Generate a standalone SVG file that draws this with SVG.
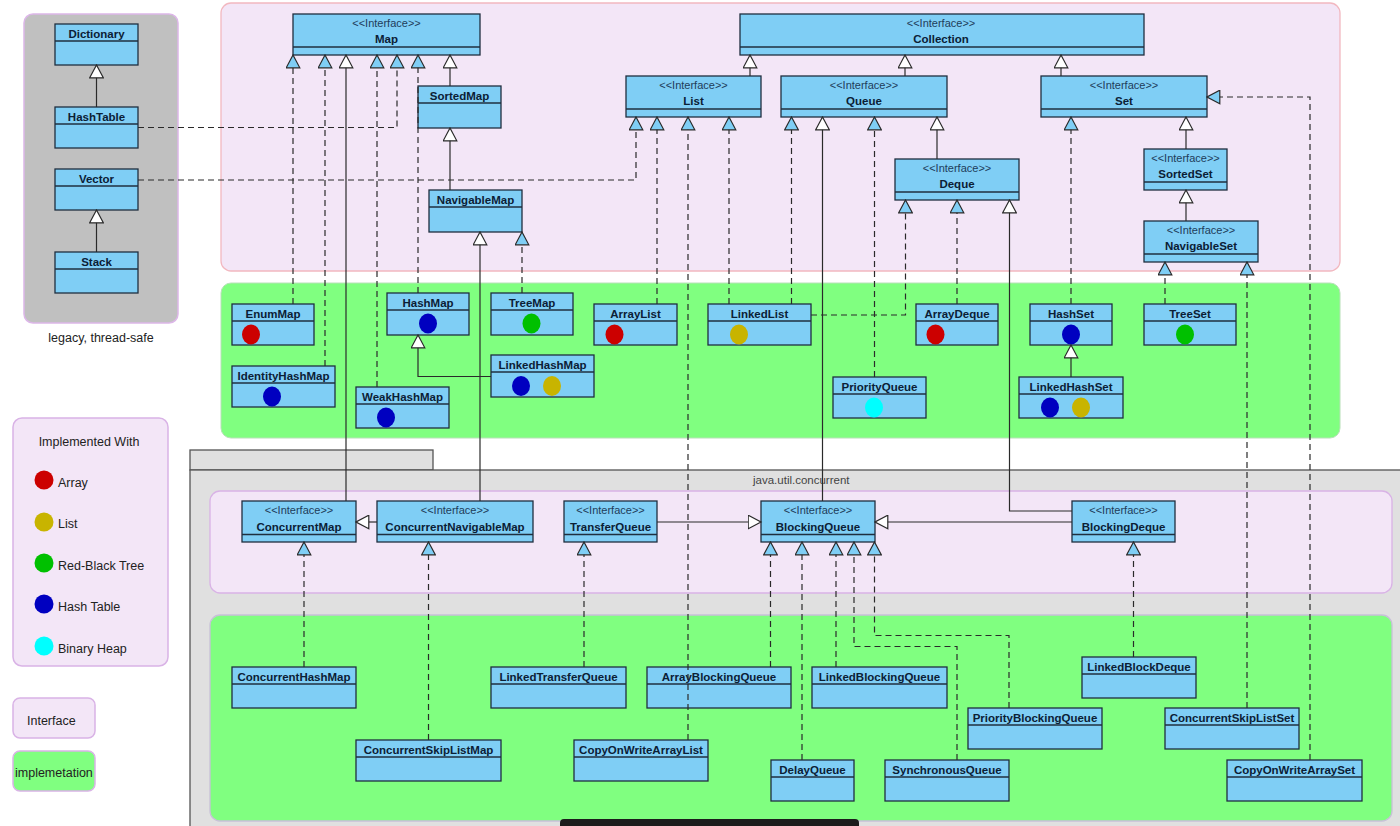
<svg xmlns="http://www.w3.org/2000/svg" width="1400" height="826" viewBox="0 0 1400 826">
<defs>
<style>
.box{fill:#7fcef5;stroke:#1f2f3f;stroke-width:1.3}
.dv{stroke:#1f2f3f;stroke-width:1.3}
.st{font-family:"Liberation Sans",Arial,sans-serif;font-size:11px;fill:#1e3c5a;text-anchor:middle}
.nm{font-family:"Liberation Sans",Arial,sans-serif;font-size:11.5px;font-weight:bold;fill:#0b2035;text-anchor:middle}
.lg{font-family:"Liberation Sans",Arial,sans-serif;font-size:12.5px;fill:#222}
.ln{fill:none;stroke:#2a2a2a;stroke-width:1.2}
.gen{marker-end:url(#gen)}
.real{marker-end:url(#real);stroke-dasharray:6 4}
.red{fill:#cc0000}.yel{fill:#c8b400}.grn{fill:#00c000}.blu{fill:#0000c0}.cyn{fill:#00ffff}
.lav{fill:#f3e6f7}
.green{fill:#80ff80}
</style>
<marker id="gen" viewBox="0 0 15 15" refX="13.5" refY="7.5" markerWidth="15" markerHeight="15" markerUnits="userSpaceOnUse" orient="auto">
<path d="M0.7,0.7 L13.5,7.5 L0.7,14.3 Z" fill="#ffffff" stroke="#2a2a2a" stroke-width="1.2"/>
</marker>
<marker id="real" viewBox="0 0 15 15" refX="13.5" refY="7.5" markerWidth="15" markerHeight="15" markerUnits="userSpaceOnUse" orient="auto">
<path d="M0.7,0.7 L13.5,7.5 L0.7,14.3 Z" fill="#7fcef5" stroke="#2a2a2a" stroke-width="1.2"/>
</marker>
</defs>
<rect x="0" y="0" width="1400" height="826" fill="#ffffff"/>

<!-- regions -->
<g id="regions">
<rect x="24" y="14" width="154" height="309" rx="9" fill="#c0c0c0" stroke="#dcb6e8" stroke-width="1.5"/>
<text class="lg" x="101" y="342" text-anchor="middle" font-size="12.5">legacy, thread-safe</text>
<rect x="221" y="3" width="1119" height="268" rx="10" class="lav" stroke="#f2b8c0" stroke-width="1.3"/>
<rect x="221" y="283" width="1119" height="155" rx="10" class="green" stroke="#b8e0b8" stroke-width="1"/>
<rect x="190" y="450" width="243" height="20" fill="#e0e0e0" stroke="#555" stroke-width="1.3"/>
<rect x="190" y="470" width="1230" height="370" fill="#e0e0e0" stroke="#555" stroke-width="1.3"/>
<text x="753" y="484" font-family="Liberation Sans, Arial, sans-serif" font-size="11.5" fill="#444">java.util.concurrent</text>
<rect x="210" y="491" width="1182" height="102" rx="10" class="lav" stroke="#d9b3e6" stroke-width="1.3"/>
<rect x="210" y="615" width="1182" height="206" rx="10" class="green" stroke="#c8c0d8" stroke-width="1.3"/>
</g>

<!-- legend -->
<g id="legend">
<rect x="13" y="418" width="155" height="248" rx="9" class="lav" stroke="#d9b3e6" stroke-width="1.5"/>
<text class="lg" x="89" y="446" text-anchor="middle">Implemented With</text>
<circle class="red" cx="44" cy="480" r="9.5"/><text class="lg" x="58" y="487">Array</text>
<circle class="yel" cx="44" cy="522" r="9.5"/><text class="lg" x="58" y="528">List</text>
<circle class="grn" cx="44" cy="563" r="9.5"/><text class="lg" x="58" y="570">Red-Black Tree</text>
<circle class="blu" cx="44" cy="604" r="9.5"/><text class="lg" x="58" y="611">Hash Table</text>
<circle class="cyn" cx="44" cy="646" r="9.5"/><text class="lg" x="58" y="653">Binary Heap</text>
<rect x="13" y="698" width="82" height="40" rx="7" class="lav" stroke="#d9b3e6" stroke-width="1.5"/>
<text class="lg" x="27" y="725">Interface</text>
<rect x="13" y="751" width="82" height="40" rx="7" class="green" stroke="#d9b3e6" stroke-width="1.5"/>
<text class="lg" x="15" y="777">implemetation</text>
</g>

<!-- legacy nodes -->
<g id="n-dictionary"><rect class="box" x="55" y="24" width="83" height="41"/><line class="dv" x1="55" y1="41" x2="138" y2="41"/><text class="nm" x="96.5" y="37.5">Dictionary</text></g>
<g id="n-hashtable"><rect class="box" x="55" y="107" width="83" height="41"/><line class="dv" x1="55" y1="124" x2="138" y2="124"/><text class="nm" x="96.5" y="120.5">HashTable</text></g>
<g id="n-vector"><rect class="box" x="55" y="169" width="83" height="41"/><line class="dv" x1="55" y1="186" x2="138" y2="186"/><text class="nm" x="96.5" y="182.5">Vector</text></g>
<g id="n-stack"><rect class="box" x="55" y="252" width="83" height="41"/><line class="dv" x1="55" y1="269" x2="138" y2="269"/><text class="nm" x="96.5" y="265.5">Stack</text></g>

<!-- top interfaces -->
<g id="n-map"><rect class="box" x="293" y="14" width="187" height="41"/><line class="dv" x1="293" y1="47" x2="480" y2="47"/><text class="st" x="386.5" y="26.5">&lt;&lt;Interface&gt;&gt;</text><text class="nm" x="386.5" y="43">Map</text></g>
<g id="n-collection"><rect class="box" x="740" y="14" width="404" height="41"/><line class="dv" x1="740" y1="47" x2="1144" y2="47"/><text class="st" x="941" y="26.5">&lt;&lt;Interface&gt;&gt;</text><text class="nm" x="941" y="43">Collection</text></g>
<g id="n-list"><rect class="box" x="626" y="76" width="135" height="41"/><line class="dv" x1="626" y1="109" x2="761" y2="109"/><text class="st" x="693.5" y="88.5">&lt;&lt;Interface&gt;&gt;</text><text class="nm" x="693.5" y="105">List</text></g>
<g id="n-queue"><rect class="box" x="781" y="76" width="166" height="41"/><line class="dv" x1="781" y1="109" x2="947" y2="109"/><text class="st" x="864" y="88.5">&lt;&lt;Interface&gt;&gt;</text><text class="nm" x="864" y="105">Queue</text></g>
<g id="n-set"><rect class="box" x="1041" y="76" width="166" height="41"/><line class="dv" x1="1041" y1="109" x2="1207" y2="109"/><text class="st" x="1124" y="88.5">&lt;&lt;Interface&gt;&gt;</text><text class="nm" x="1124" y="105">Set</text></g>
<g id="n-sortedmap"><rect class="box" x="418" y="86" width="83" height="42"/><line class="dv" x1="418" y1="103" x2="501" y2="103"/><text class="nm" x="459.5" y="100">SortedMap</text></g>
<g id="n-navigablemap"><rect class="box" x="429" y="190" width="93" height="42"/><line class="dv" x1="429" y1="207" x2="522" y2="207"/><text class="nm" x="475.5" y="204">NavigableMap</text></g>
<g id="n-deque"><rect class="box" x="895" y="159" width="124" height="41"/><line class="dv" x1="895" y1="192" x2="1019" y2="192"/><text class="st" x="957" y="171.5">&lt;&lt;Interface&gt;&gt;</text><text class="nm" x="957" y="188">Deque</text></g>
<g id="n-sortedset"><rect class="box" x="1144" y="149" width="83" height="41"/><line class="dv" x1="1144" y1="182" x2="1227" y2="182"/><text class="st" x="1185.5" y="161.5">&lt;&lt;Interface&gt;&gt;</text><text class="nm" x="1185.5" y="178">SortedSet</text></g>
<g id="n-navigableset"><rect class="box" x="1144" y="221" width="114" height="41"/><line class="dv" x1="1144" y1="254" x2="1258" y2="254"/><text class="st" x="1201" y="233.5">&lt;&lt;Interface&gt;&gt;</text><text class="nm" x="1201" y="250">NavigableSet</text></g>

<!-- top implementations -->
<g id="n-enummap"><rect class="box" x="232" y="304" width="82" height="41"/><line class="dv" x1="232" y1="321" x2="314" y2="321"/><text class="nm" x="273" y="317.5">EnumMap</text><ellipse class="red" cx="251" cy="334.5" rx="9" ry="10"/></g>
<g id="n-identityhashmap"><rect class="box" x="232" y="366" width="103" height="41"/><line class="dv" x1="232" y1="383" x2="335" y2="383"/><text class="nm" x="283.5" y="379.5">IdentityHashMap</text><ellipse class="blu" cx="272" cy="396.5" rx="9" ry="10"/></g>
<g id="n-hashmap"><rect class="box" x="387" y="293" width="82" height="42"/><line class="dv" x1="387" y1="310" x2="469" y2="310"/><text class="nm" x="428" y="306.5">HashMap</text><ellipse class="blu" cx="428" cy="323.5" rx="9" ry="10"/></g>
<g id="n-weakhashmap"><rect class="box" x="356" y="387" width="93" height="41"/><line class="dv" x1="356" y1="404" x2="449" y2="404"/><text class="nm" x="402.5" y="400.5">WeakHashMap</text><ellipse class="blu" cx="386" cy="417.5" rx="9" ry="10"/></g>
<g id="n-treemap"><rect class="box" x="491" y="293" width="82" height="42"/><line class="dv" x1="491" y1="310" x2="573" y2="310"/><text class="nm" x="532" y="306.5">TreeMap</text><ellipse class="grn" cx="531.5" cy="323.5" rx="9" ry="10"/></g>
<g id="n-linkedhashmap"><rect class="box" x="491" y="355" width="103" height="42"/><line class="dv" x1="491" y1="372" x2="594" y2="372"/><text class="nm" x="542.5" y="368.5">LinkedHashMap</text><ellipse class="blu" cx="521" cy="386" rx="9" ry="10"/><ellipse class="yel" cx="552" cy="386" rx="9" ry="10"/></g>
<g id="n-arraylist"><rect class="box" x="594" y="304" width="83" height="41"/><line class="dv" x1="594" y1="321" x2="677" y2="321"/><text class="nm" x="635.5" y="317.5">ArrayList</text><ellipse class="red" cx="614.5" cy="334.5" rx="9" ry="10"/></g>
<g id="n-linkedlist"><rect class="box" x="708" y="304" width="103" height="41"/><line class="dv" x1="708" y1="321" x2="811" y2="321"/><text class="nm" x="759.5" y="317.5">LinkedList</text><ellipse class="yel" cx="739" cy="334.5" rx="9" ry="10"/></g>
<g id="n-priorityqueue"><rect class="box" x="833" y="377" width="93" height="41"/><line class="dv" x1="833" y1="394" x2="926" y2="394"/><text class="nm" x="879.5" y="390.5">PriorityQueue</text><ellipse class="cyn" cx="874" cy="407.5" rx="9" ry="10"/></g>
<g id="n-arraydeque"><rect class="box" x="916" y="304" width="82" height="41"/><line class="dv" x1="916" y1="321" x2="998" y2="321"/><text class="nm" x="957" y="317.5">ArrayDeque</text><ellipse class="red" cx="935.5" cy="334.5" rx="9" ry="10"/></g>
<g id="n-hashset"><rect class="box" x="1030" y="304" width="82" height="41"/><line class="dv" x1="1030" y1="321" x2="1112" y2="321"/><text class="nm" x="1071" y="317.5">HashSet</text><ellipse class="blu" cx="1071" cy="334.5" rx="9" ry="10"/></g>
<g id="n-linkedhashset"><rect class="box" x="1019" y="377" width="104" height="41"/><line class="dv" x1="1019" y1="394" x2="1123" y2="394"/><text class="nm" x="1071" y="390.5">LinkedHashSet</text><ellipse class="blu" cx="1050" cy="407.5" rx="9" ry="10"/><ellipse class="yel" cx="1081" cy="407.5" rx="9" ry="10"/></g>
<g id="n-treeset"><rect class="box" x="1144" y="304" width="92" height="41"/><line class="dv" x1="1144" y1="321" x2="1236" y2="321"/><text class="nm" x="1190" y="317.5">TreeSet</text><ellipse class="grn" cx="1185" cy="334.5" rx="9" ry="10"/></g>

<!-- concurrent interfaces -->
<g id="n-concurrentmap"><rect class="box" x="242" y="501" width="114" height="41"/><line class="dv" x1="242" y1="534.5" x2="356" y2="534.5"/><text class="st" x="299" y="514">&lt;&lt;Interface&gt;&gt;</text><text class="nm" x="299" y="530.5">ConcurrentMap</text></g>
<g id="n-concurrentnavigablemap"><rect class="box" x="377" y="501" width="156" height="41"/><line class="dv" x1="377" y1="534.5" x2="533" y2="534.5"/><text class="st" x="455" y="514">&lt;&lt;Interface&gt;&gt;</text><text class="nm" x="455" y="530.5">ConcurrentNavigableMap</text></g>
<g id="n-transferqueue"><rect class="box" x="564" y="501" width="93" height="41"/><line class="dv" x1="564" y1="534.5" x2="657" y2="534.5"/><text class="st" x="610.5" y="514">&lt;&lt;Interface&gt;&gt;</text><text class="nm" x="610.5" y="530.5">TransferQueue</text></g>
<g id="n-blockingqueue"><rect class="box" x="761" y="501" width="114" height="41"/><line class="dv" x1="761" y1="534.5" x2="875" y2="534.5"/><text class="st" x="818" y="514">&lt;&lt;Interface&gt;&gt;</text><text class="nm" x="818" y="530.5">BlockingQueue</text></g>
<g id="n-blockingdeque"><rect class="box" x="1072" y="501" width="103" height="41"/><line class="dv" x1="1072" y1="534.5" x2="1175" y2="534.5"/><text class="st" x="1123.5" y="514">&lt;&lt;Interface&gt;&gt;</text><text class="nm" x="1123.5" y="530.5">BlockingDeque</text></g>

<!-- concurrent implementations -->
<g id="n-concurrenthashmap"><rect class="box" x="232" y="667" width="124" height="41"/><line class="dv" x1="232" y1="684" x2="356" y2="684"/><text class="nm" x="294" y="680.5">ConcurrentHashMap</text></g>
<g id="n-concurrentskiplistmap"><rect class="box" x="356" y="740" width="145" height="41"/><line class="dv" x1="356" y1="757" x2="501" y2="757"/><text class="nm" x="428.5" y="753.5">ConcurrentSkipListMap</text></g>
<g id="n-linkedtransferqueue"><rect class="box" x="491" y="667" width="135" height="41"/><line class="dv" x1="491" y1="684" x2="626" y2="684"/><text class="nm" x="558.5" y="680.5">LinkedTransferQueue</text></g>
<g id="n-arrayblockingqueue"><rect class="box" x="647" y="667" width="144" height="41"/><line class="dv" x1="647" y1="684" x2="791" y2="684"/><text class="nm" x="719" y="680.5">ArrayBlockingQueue</text></g>
<g id="n-copyonwritearraylist"><rect class="box" x="574" y="740" width="134" height="41"/><line class="dv" x1="574" y1="757" x2="708" y2="757"/><text class="nm" x="641" y="753.5">CopyOnWriteArrayList</text></g>
<g id="n-linkedblockingqueue"><rect class="box" x="812" y="667" width="135" height="41"/><line class="dv" x1="812" y1="684" x2="947" y2="684"/><text class="nm" x="879.5" y="680.5">LinkedBlockingQueue</text></g>
<g id="n-delayqueue"><rect class="box" x="771" y="760" width="83" height="41"/><line class="dv" x1="771" y1="777" x2="854" y2="777"/><text class="nm" x="812.5" y="773.5">DelayQueue</text></g>
<g id="n-synchronousqueue"><rect class="box" x="885" y="760" width="124" height="41"/><line class="dv" x1="885" y1="777" x2="1009" y2="777"/><text class="nm" x="947" y="773.5">SynchronousQueue</text></g>
<g id="n-priorityblockingqueue"><rect class="box" x="968" y="708" width="134" height="41"/><line class="dv" x1="968" y1="725" x2="1102" y2="725"/><text class="nm" x="1035" y="721.5">PriorityBlockingQueue</text></g>
<g id="n-linkedblockdeque"><rect class="box" x="1082" y="657" width="114" height="41"/><line class="dv" x1="1082" y1="674" x2="1196" y2="674"/><text class="nm" x="1139" y="670.5">LinkedBlockDeque</text></g>
<g id="n-concurrentskiplistset"><rect class="box" x="1165" y="708" width="134" height="41"/><line class="dv" x1="1165" y1="725" x2="1299" y2="725"/><text class="nm" x="1232" y="721.5">ConcurrentSkipListSet</text></g>
<g id="n-copyonwritearrayset"><rect class="box" x="1227" y="760" width="135" height="41"/><line class="dv" x1="1227" y1="777" x2="1362" y2="777"/><text class="nm" x="1294.5" y="773.5">CopyOnWriteArraySet</text></g>

<!-- connectors -->
<g id="connectors" class="ln">
<path class="gen" d="M96.5,107 V65"/>
<path class="gen" d="M96.5,252 V210"/>
<path class="real" d="M138,127.5 H397 V55"/>
<path class="real" d="M138,180 H636 V117"/>
<path class="real" d="M293,304 V55"/>
<path class="real" d="M325,366 V55"/>
<path class="gen" d="M346,501 V55"/>
<path class="real" d="M377,387 V55"/>
<path class="real" d="M418,293 V55"/>
<path class="gen" d="M450,86 V55"/>
<path class="gen" d="M450,190 V128"/>
<path class="real" d="M522,293 V232"/>
<path class="gen" d="M480,501 V232"/>
<path class="gen" d="M491,376.5 H418 V335"/>
<path class="gen" d="M750,76 V55"/>
<path class="gen" d="M905,76 V55"/>
<path class="gen" d="M1061,76 V55"/>
<path class="real" d="M657,304 V117"/>
<path class="real" d="M688,740 V117"/>
<path class="real" d="M729,304 V117"/>
<path class="real" d="M791.5,304 V117"/>
<path class="gen" d="M822.5,501 V117"/>
<path class="real" d="M874.5,377 V117"/>
<path class="gen" d="M937,159 V117"/>
<path class="real" d="M811,315 H905.5 V200"/>
<path class="real" d="M957,304 V200"/>
<path class="gen" d="M1072,511 H1009.5 V200"/>
<path class="real" d="M1071,304 V117"/>
<path class="gen" d="M1186,149 V117"/>
<path class="gen" d="M1186,221 V190"/>
<path class="real" d="M1165,304 V262"/>
<path class="real" d="M1247,708 V262"/>
<path class="real" d="M1310,760 V97 H1207"/>
<path class="gen" d="M1071,377 V345"/>
<path class="gen" d="M377,522 H356"/>
<path class="gen" d="M657,522 H761"/>
<path class="gen" d="M1072,522 H875"/>
<path class="real" d="M304,667 V542"/>
<path class="real" d="M428.5,740 V542"/>
<path class="real" d="M584,667 V542"/>
<path class="real" d="M770.5,667 V542"/>
<path class="real" d="M802,760 V542"/>
<path class="real" d="M836,667 V542"/>
<path class="real" d="M957,760 V646.5 H854 V542"/>
<path class="real" d="M1009,708 V635.5 H874.5 V542"/>
<path class="real" d="M1133.5,657 V542"/>
</g>

<rect x="560" y="819" width="299" height="10" rx="4" fill="#1c1c1c"/>
</svg>
